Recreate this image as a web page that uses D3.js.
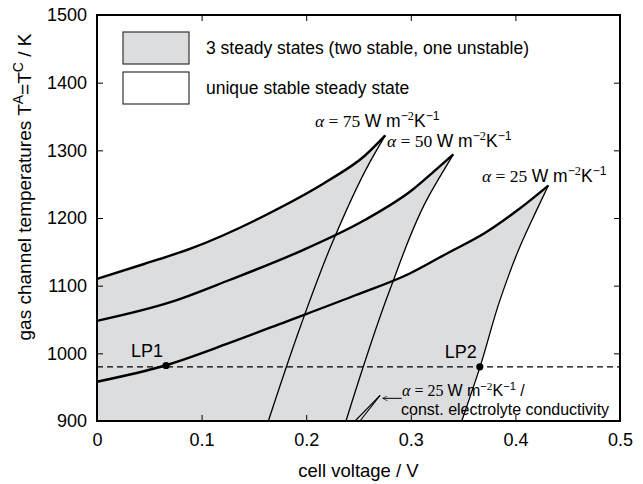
<!DOCTYPE html>
<html>
<head>
<meta charset="utf-8">
<script src="https://cdn.jsdelivr.net/npm/d3@7"></script>
<style>
	body { margin: 0; background: #fff; }
	svg { display: block; font-family: "Liberation Sans", Arial, sans-serif; }
	.axis text { font-size: 18px; fill: #000; }
	.serif { font-family: "Liberation Serif", "Times New Roman", serif; }
</style>
</head>
<body>
<script>
// curves: [cell voltage, temperature]
const alpha75Upper = [[0, 1110], [0.045, 1132], [0.09, 1155], [0.161, 1204], [0.222, 1256], [0.256, 1292], [0.2756, 1322]];
const alpha75Lower = [[0.2756, 1322], [0.26, 1280], [0.224, 1160], [0.195, 1042], [0.1638, 900]];
const alpha50Upper = [[0, 1048], [0.071, 1076], [0.126, 1108], [0.193, 1150], [0.256, 1197], [0.301, 1241], [0.323, 1270], [0.3406, 1294]];
const alpha50Lower = [[0.3406, 1294], [0.3375, 1286], [0.315, 1226], [0.28, 1094], [0.238, 900]];
const alpha25Upper = [[0, 958], [0.065, 982], [0.126, 1015], [0.181, 1047], [0.244, 1084], [0.299, 1118], [0.335, 1148], [0.37, 1177], [0.4016, 1211], [0.4315, 1248]];
const alpha25Lower = [[0.4315, 1248], [0.4204, 1212], [0.4044, 1158], [0.3853, 1079], [0.3662, 980], [0.3487, 900]];
const constCondA = [[0.2706, 938], [0.2467, 900]];
const constCondB = [[0.2706, 938], [0.2514, 900]];
const dashLevel = 980;
const limitPoints = [{name: "LP1", x: 0.066, y: 982}, {name: "LP2", x: 0.366, y: 980}];
const xTicks = [0, 0.1, 0.2, 0.3, 0.4, 0.5];
const yTicks = [900, 1000, 1100, 1200, 1300, 1400, 1500];

const width = 643, height = 484;
const margin = {top: 15, right: 23, bottom: 63, left: 97};
const fill = "#dcdddf";

let x = d3.scaleLinear().domain([0, 0.5]).range([margin.left, width - margin.right]);
let y = d3.scaleLinear().domain([900, 1500]).range([height - margin.bottom, margin.top]);

let line = d3.line()
	.x(d => x(d[0]))
	.y(d => y(d[1]))
	.curve(d3.curveMonotoneX);

// the unstable branches are steep, so smooth them along y
let steepLine = d3.line()
	.x(d => x(d[0]))
	.y(d => y(d[1]))
	.curve(d3.curveMonotoneY);

let straight = d3.line().x(d => x(d[0])).y(d => y(d[1]));

let svg = d3.select("body").append("svg")
	.attr("width", width)
	.attr("height", height);

svg.append("defs").append("marker")
	.attr("id", "arrow")
	.attr("viewBox", "0 0 10 10")
	.attr("refX", 9).attr("refY", 5)
	.attr("markerWidth", 7).attr("markerHeight", 5)
	.attr("orient", "auto")
	.append("path")
		.attr("d", "M0,0 L10,5 L0,10")
		.attr("fill", "none")
		.attr("stroke", "#000")
		.attr("stroke-width", 1.3);

// shaded multiplicity regions
let regions = [[alpha75Upper, alpha75Lower], [alpha50Upper, alpha50Lower], [alpha25Upper, alpha25Lower]];
regions.forEach(([up, low]) => {
	let d = line(up) + steepLine(low).replace(/^M/, "L") +
		`L${x(0)},${y(900)}Z`;
	svg.append("path").attr("d", d).attr("fill", fill).attr("stroke", "none");
});

// dashed level
svg.append("line")
	.attr("x1", x(0)).attr("x2", x(0.5))
	.attr("y1", y(dashLevel)).attr("y2", y(dashLevel))
	.attr("stroke", "#000").attr("stroke-width", 1.1)
	.attr("stroke-dasharray", "6,4");

// lower (unstable) branches
[alpha75Lower, alpha50Lower, alpha25Lower].forEach(c => {
	svg.append("path").attr("d", steepLine(c))
		.attr("fill", "none").attr("stroke", "#000").attr("stroke-width", 1.3);
});
[constCondA, constCondB].forEach(c => {
	svg.append("path").attr("d", straight(c))
		.attr("fill", "none").attr("stroke", "#000").attr("stroke-width", 1.1);
});

// upper branches
[alpha75Upper, alpha50Upper, alpha25Upper].forEach(c => {
	svg.append("path").attr("d", line(c))
		.attr("fill", "none").attr("stroke", "#000").attr("stroke-width", 2.4);
});

// limit points
svg.selectAll(".lp").data(limitPoints).enter().append("circle")
	.attr("cx", d => x(d.x)).attr("cy", d => y(d.y)).attr("r", 3.6).attr("fill", "#000");
svg.selectAll(".lpl").data(limitPoints).enter().append("text")
	.attr("x", d => x(d.x) - 19).attr("y", d => y(d.y) - 9)
	.attr("text-anchor", "middle").attr("font-size", 18)
	.text(d => d.name);

// axes, ticks inward
let axes = [
	[d3.axisBottom(x).tickValues(xTicks).tickFormat(d => d === 0 ? "0" : d3.format(".1f")(d)), `translate(0,${y(900)})`],
	[d3.axisTop(x).tickValues(xTicks).tickFormat(""), `translate(0,${y(1500)})`],
	[d3.axisLeft(y).tickValues(yTicks).tickFormat(d3.format("d")), `translate(${x(0)},0)`],
	[d3.axisRight(y).tickValues(yTicks).tickFormat(""), `translate(${x(0.5)},0)`],
];
axes.forEach(([ax, tr], i) => {
	let g = svg.append("g").attr("class", "axis").attr("transform", tr)
		.call(ax.tickSizeInner(-6).tickSizeOuter(0).tickPadding(i < 2 ? 12 : 10));
	g.select(".domain").remove();
	g.selectAll(".tick line").attr("stroke", "#000").attr("stroke-width", 1);
});

svg.append("rect")
	.attr("x", x(0)).attr("y", y(1500))
	.attr("width", x(0.5) - x(0)).attr("height", y(900) - y(1500))
	.attr("fill", "none").attr("stroke", "#000").attr("stroke-width", 2);

// axis titles
svg.append("text")
	.attr("x", (x(0) + x(0.5)) / 2).attr("y", 477)
	.attr("text-anchor", "middle").attr("font-size", 18.5)
	.text("cell voltage / V");

let yt = svg.append("text")
	.attr("transform", `translate(31,187) rotate(-90)`)
	.attr("text-anchor", "middle").attr("font-size", 19);
yt.append("tspan").text("gas channel temperatures T");
yt.append("tspan").attr("dy", -8).attr("font-size", 14).text("A");
yt.append("tspan").attr("dy", 8).text("=T");
yt.append("tspan").attr("dy", -8).attr("font-size", 14).text("C");
yt.append("tspan").attr("dy", 8).text(" / K");

// legend
let legend = [{label: "3 steady states (two stable, one unstable)", fill: fill}, {label: "unique stable steady state", fill: "#fff"}];
legend.forEach((l, i) => {
	let top = 32 + i * 40;
	svg.append("rect").attr("x", 123).attr("y", top).attr("width", 66).attr("height", 32)
		.attr("fill", l.fill).attr("stroke", "#333").attr("stroke-width", 1.2);
	svg.append("text").attr("x", 206).attr("y", top + 22).attr("font-size", 17.5).text(l.label);
});

// alpha annotations
function alphaLabel(px, py, value, size, tail) {
	let sup = size * 0.7, up = size * 0.4;
	let t = svg.append("text").attr("x", px).attr("y", py).attr("font-size", size);
	t.append("tspan").attr("class", "serif").attr("font-style", "italic").text("α");
	t.append("tspan").attr("class", "serif").text(` = ${value} `);
	t.append("tspan").text("W m");
	t.append("tspan").attr("dy", -up).attr("font-size", sup).text("−");
	t.append("tspan").attr("class", "serif").attr("font-size", sup).text("2");
	t.append("tspan").attr("dy", up).text("K");
	t.append("tspan").attr("dy", -up).attr("font-size", sup).text("−1");
	if (tail) t.append("tspan").attr("dy", up).text(tail);
	return t;
}
alphaLabel(315, 127, 75, 17.5);
alphaLabel(387, 147, 50, 17.5);
alphaLabel(482, 182, 25, 17.5);
alphaLabel(402, 396, 25, 16, " /");
svg.append("text").attr("x", 401).attr("y", 415).attr("font-size", 16)
	.text("const. electrolyte conductivity");

svg.append("line")
	.attr("x1", x(0.2913)).attr("y1", y(933.5))
	.attr("x2", x(0.2735)).attr("y2", y(933.5))
	.attr("stroke", "#000").attr("stroke-width", 1)
	.attr("marker-end", "url(#arrow)");
</script>
</body>
</html>
